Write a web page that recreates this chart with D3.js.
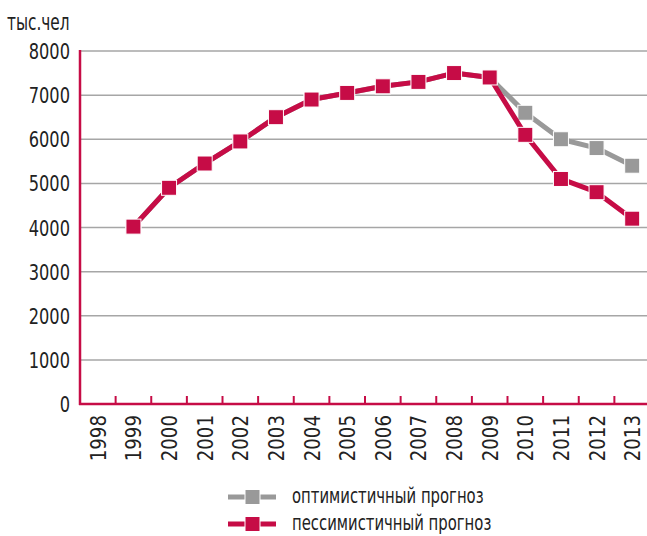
<!DOCTYPE html>
<html>
<head>
<meta charset="utf-8">
<script src="https://cdn.jsdelivr.net/npm/d3@7"></script>
<style>
  body { margin: 0; background: #fff; }
  text { font-family: "Liberation Sans Narrow", "DejaVu Sans Condensed", "Roboto", sans-serif; font-stretch: condensed; fill: #222; }
</style>
</head>
<body>
<div id="chart"></div>
<script>
const years = ["1998","1999","2000","2001","2002","2003","2004","2005","2006","2007","2008","2009","2010","2011","2012","2013"];
const pessimistic = [null,4020,4900,5450,5950,6500,6900,7050,7200,7300,7500,7400,6100,5100,4800,4200];
const optimistic = [null,4020,4900,5450,5950,6500,6900,7050,7200,7300,7500,7400,6600,6000,5800,5400];
const yTicks = [0,1000,2000,3000,4000,5000,6000,7000,8000];
const seriesNames = ["оптимистичный прогноз", "пессимистичный прогноз"];

const W = 647, H = 536;
const red = "#c60c46", gray = "#999999";

const svg = d3.select("#chart").append("svg")
  .attr("width", W).attr("height", H);

const x = d3.scaleBand().domain(years).range([80, 650]);
const y = d3.scaleLinear().domain([0, 8000]).range([404, 51]);

// gridlines
svg.append("g")
  .selectAll("line")
  .data(yTicks.filter(d => d > 0))
  .enter()
  .append("line")
  .attr("x1", 80).attr("x2", W)
  .attr("y1", d => y(d)).attr("y2", d => y(d))
  .attr("stroke", "#a6a6a6").attr("stroke-width", 1.5);

// y labels (squeezed a bit to look like the narrow original font)
svg.append("g")
  .selectAll("text")
  .data(yTicks)
  .enter()
  .append("text")
  .attr("transform", d => `translate(70,${y(d) + 8}) scale(0.82,1)`)
  .attr("text-anchor", "end")
  .style("font-size", "22px")
  .text(d => d);

svg.append("text")
  .attr("transform", "translate(7,30) scale(0.74,1)")
  .style("font-size", "23px")
  .text("тыс.чел");

// axes
svg.append("line")
  .attr("x1", 80).attr("x2", 80).attr("y1", 50).attr("y2", 405)
  .attr("stroke", red).attr("stroke-width", 2.5);
svg.append("line")
  .attr("x1", 79).attr("x2", W).attr("y1", 404).attr("y2", 404)
  .attr("stroke", red).attr("stroke-width", 2.5);

// x ticks at category boundaries
svg.append("g")
  .selectAll("line")
  .data(years.slice(1))
  .enter()
  .append("line")
  .attr("x1", d => x(d)).attr("x2", d => x(d))
  .attr("y1", 396).attr("y2", 404)
  .attr("stroke", red).attr("stroke-width", 2);

// x labels, rotated
svg.append("g")
  .selectAll("text")
  .data(years)
  .enter()
  .append("text")
  .attr("transform", d => `translate(${x(d) + x.bandwidth() / 2 + 8},415) rotate(-90) scale(0.92,1)`)
  .attr("text-anchor", "end")
  .style("font-size", "22px")
  .text(d => d);

const line = d3.line()
  .defined(d => d.v != null)
  .x(d => x(d.year) + x.bandwidth() / 2)
  .y(d => y(d.v));

function drawSeries(vals, color) {
  const pts = years.map((year, i) => ({ year, v: vals[i] }));
  svg.append("path")
    .datum(pts)
    .attr("d", line)
    .attr("fill", "none")
    .attr("stroke", color)
    .attr("stroke-width", 5)
    .attr("stroke-linejoin", "round");
  svg.append("g")
    .selectAll("rect")
    .data(pts.filter(d => d.v != null))
    .enter()
    .append("rect")
    .attr("x", d => x(d.year) + x.bandwidth() / 2 - 7.5)
    .attr("y", d => y(d.v) - 7.5)
    .attr("width", 15).attr("height", 15)
    .attr("fill", color)
    .attr("stroke", "#fff").attr("stroke-width", 1);
}

drawSeries(optimistic, gray);
drawSeries(pessimistic, red);

// legend
const legend = svg.append("g");
[gray, red].forEach((c, i) => {
  const ly = 497 + i * 27;
  legend.append("line")
    .attr("x1", 228).attr("x2", 276).attr("y1", ly).attr("y2", ly)
    .attr("stroke", c).attr("stroke-width", 5);
  legend.append("rect")
    .attr("x", 245).attr("y", ly - 7.5).attr("width", 15).attr("height", 15)
    .attr("fill", c).attr("stroke", "#fff").attr("stroke-width", 1);
  legend.append("text")
    .attr("transform", `translate(292,${ly + 6}) scale(0.75,1)`)
    .style("font-size", "22px")
    .text(seriesNames[i]);
});
</script>
</body>
</html>
